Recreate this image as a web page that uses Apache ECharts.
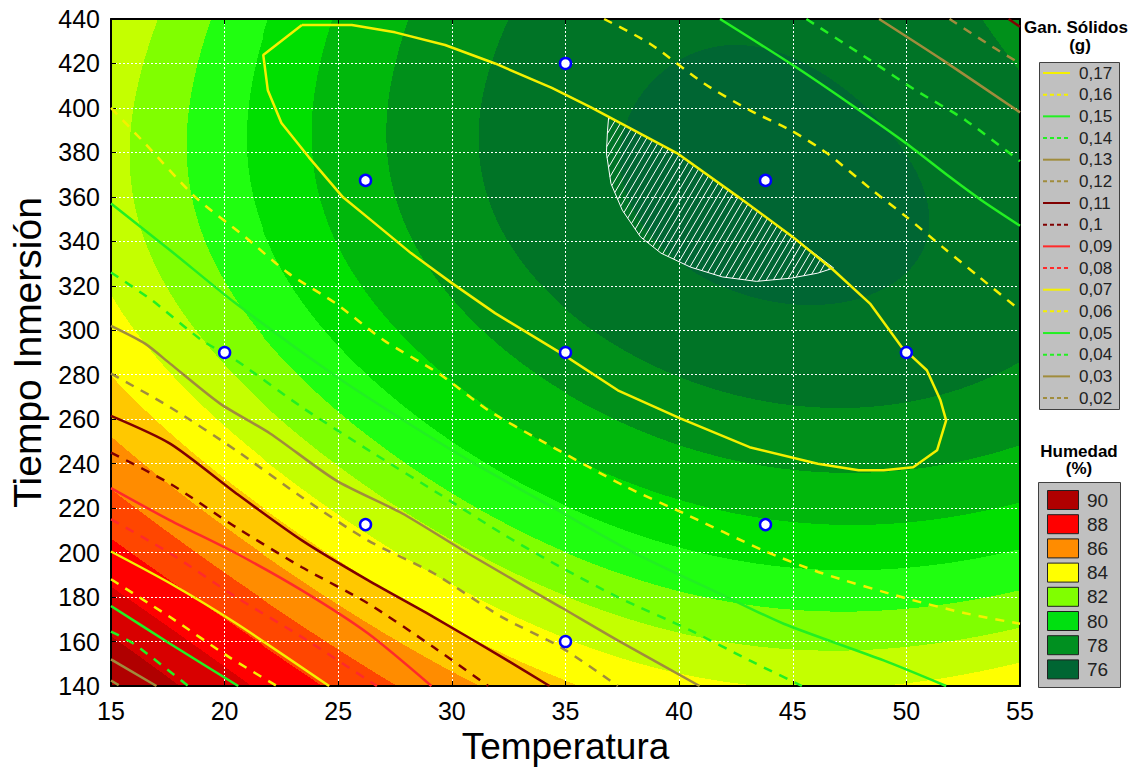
<!DOCTYPE html>
<html><head><meta charset="utf-8">
<script src="https://cdn.jsdelivr.net/npm/echarts@6/dist/echarts.min.js"></script>
<style>html,body{margin:0;padding:0;background:#fff}#c{width:1147px;height:775px}</style>
</head><body><div id="c"></div>
<script>
// ---------------- DATA ----------------
const tempTicks = [15, 20, 25, 30, 35, 40, 45, 50, 55];
const timeTicks = [140, 160, 180, 200, 220, 240, 260, 280, 300, 320, 340, 360, 380, 400, 420, 440];

// Humedad (%) readings at T = 15..55 for several immersion times
const humTemps = [15, 20, 25, 30, 35, 40, 45, 50, 55];
const hum440 = [82.5, 80.8, 78.9, 77.6, 76.7, 76.3, 76.3, 76.6, 77.2];
const hum390 = [82.5, 80.6, 78.6, 77.2, 76.3, 75.8, 75.6, 75.9, 76.6];
const hum340 = [82.8, 80.7, 78.8, 77.5, 76.6, 75.9, 75.6, 75.9, 76.6];
const hum290 = [83.6, 81.8, 79.9, 78.4, 77.3, 76.8, 76.6, 76.7, 77.3];
const hum240 = [85.2, 83.6, 82.0, 80.5, 79.2, 78.2, 77.7, 77.5, 77.9];
const hum190 = [87.5, 86.0, 84.7, 83.4, 82.0, 80.9, 80.1, 79.8, 80.1];
const hum140 = [90.6, 88.0, 86.9, 85.4, 83.8, 83.0, 82.8, 83.1, 83.6];
// band-edge readings [T, time, humedad]
const humEdges = [
  [42.4,429,76],[38.0,414,76],[37.3,402,76],[36.8,380,76],[37.0,366,76],[37.5,354,76],[38.3,342,76],
  [40.5,328.4,76],[43.4,322,76],[46.1,325.7,76],[47.5,330,76],[48.7,339,76],[49.8,351,76],
  [50.3,369,76],[50.3,381,76],[49.4,402,76],[47.5,418,76],
  [16.6,358,82],[18.9,358,81],[21.3,358,80],[24.0,358,79],[27.1,358,78],[31.2,358,77],
  [17.0,440,82],[19.5,440,81],[22.0,440,80],[24.7,440,79],[28.5,440,78],[32.6,440,77],[53.0,440,77],
  [19.8,140,88],[24.5,140,87],[28.5,140,86],[31.3,140,85],[34.0,140,84],[47.5,144,83],[54.8,157.5,83]
];

// Humedad legend
const humLegendLabels = ['90', '88', '86', '84', '82', '80', '78', '76'];
const humLegendColors = ['#b00000', '#ff0000', '#ff8c00', '#ffff00', '#80ff00', '#00e010', '#009020', '#006633'];
const humBandLevels = [76, 77, 78, 79, 80, 81, 82, 83, 84, 85, 86, 87, 88, 89, 90];
const humBandColors = ['#006633', '#007426', '#00901a', '#00b80c', '#00e000', '#20ff10', '#80ff00', '#c4ff00',
  '#ffff00', '#ffc800', '#ff8c00', '#ff4600', '#ff0000', '#d80000', '#b00000', '#900000'];

// Gan. Sólidos (g) contour lines, [Temperatura, Tiempo]
const gs017 = [[23.4,437.3],[25.6,437.3],[27.5,434],[29.7,428.3],[31.9,420],[34.4,409],[36.1,400.4],[39.9,379.7],
  [42.6,360],[45.0,342],[46.8,327],[48.4,312],[49.8,292.4],[50.9,282],[51.5,268.5],[51.75,259.5],[51.35,246],
  [50.3,238.4],[49.0,237],[47.9,237],[46.1,240],[43.1,247.4],[40.05,260.4],[37.3,273],[34.8,289.7],[31.9,307.7],
  [30.0,321.2],[28.2,334.7],[26.6,348.2],[25.2,359.9],[23.7,377.9],[22.5,393.2],[21.9,408],[21.7,423.8],[23.4,437.3]];
const gs016a = [[36.7,440],[38.7,429],[41.1,411],[43.1,399],[44.9,390],[46.5,379.7],[48.5,363],[50.0,351],[51.6,337.4],[53.2,324],[55,309]];
const gs016b = [[15,400],[16.5,384],[18.7,360],[20.9,342],[22.8,325.7],[24.9,312],[27.0,295.5],[29.4,280.7],[31.6,264],
  [33.9,250.5],[37.7,229.4],[40.2,217.7],[43.7,201],[46.3,190.7],[50.0,179.4],[52.6,172.7],[55,168]];
const gs015a = [[41.8,440],[45.0,419.3],[47.5,402],[50.0,384],[51.9,369],[53.3,358.5],[55,347]];
const gs015b = [[15,357],[17.6,336],[20.5,312],[24.8,280],[27.8,260],[31.0,240],[34.5,220],[38.0,200],[42.1,180],[44.6,168],[49.0,151.5],[51.75,140]];
const gs014a = [[45.6,440],[48.4,421.5],[50.4,408],[52.6,394.5],[55,376]];
const gs014b = [[15,326],[16.8,313.5],[19.0,295.5],[20.5,286.5],[23.4,265.4],[26.5,245],[29.5,226],[32.3,208],[34.8,193.4],[37.3,180],[40.5,165],[43.1,151.5],[45.4,140]];
const gs013a = [[48.8,440],[51.6,421.5],[55,398]];
const gs013b = [[15,302],[16.5,294],[17.6,285],[19.8,267],[22.0,253.6],[24.9,232.5],[27.8,217.7],[30.7,199.7],[34.8,175.4],[37.3,160.5],[40.9,140]];
const gs012a = [[51.9,440],[53.8,427.4],[55,420]];
const gs012b = [[15,280.5],[17.6,265.4],[20.5,246],[23.4,224.9],[26.3,205.5],[29.2,190.7],[32.2,171],[34.8,157.4],[37.3,140]];
const gs011a = [[54.5,440],[55,436.5]];
const gs011b = [[15,261.5],[17.6,249],[20.5,226.7],[23.4,205.5],[26.3,187.6],[29.2,171],[32.2,153],[34.3,140]];
const gs010 = [[15,245],[17.6,231],[20.5,211.4],[23.4,193.4],[26.3,177.2],[29.2,157.4],[31.6,140]];
const gs009 = [[15,229],[17.6,214.5],[20.5,199.7],[23.4,183],[26.3,163.7],[29.1,140]];
const gs008 = [[15,215],[17.6,199.7],[20.5,180],[23.4,162],[26.7,140]];
const gs007 = [[15,200.5],[17.6,186.2],[20.5,168.2],[24.6,140]];
const gs006 = [[15,188],[17.6,171],[20.2,153],[22.3,140]];
const gs005 = [[15,176],[17.6,159],[20.6,140]];
const gs004 = [[15,164.5],[16.0,159],[18.4,140]];
const gs003 = [[15,152],[17.0,140]];
const gs002 = [[15,142.5],[15.4,140]];

const solidsLabels = ['0,17','0,16','0,15','0,14','0,13','0,12','0,11','0,1','0,09','0,08','0,07','0,06','0,05','0,04','0,03','0,02'];
const solidsLines = [[gs017],[gs016a,gs016b],[gs015a,gs015b],[gs014a,gs014b],[gs013a,gs013b],[gs012a,gs012b],
  [gs011a,gs011b],[gs010],[gs009],[gs008],[gs007],[gs006],[gs005],[gs004],[gs003],[gs002]];
const solidsPalette = ['#f4f000', '#22f022', '#a08c3c', '#800000', '#ff2a2a'];

// Optimum (hatched) region, [Temperatura, Tiempo]
const hatchRegion = [[36.9,396],[39.9,379.7],[42.6,360],[45.0,342],[46.8,328],[46.1,325.7],[44.9,323.4],[43.4,322],
  [41.9,324],[40.5,328.4],[39.2,334.7],[38.3,342],[37.5,354],[37.0,366],[36.8,379.7],[36.85,390]];

// Experimental design points
const designTemp = [20, 26.2, 26.2, 35, 35, 35, 43.8, 43.8, 50];
const designTime = [290, 212.6, 367.4, 160, 290, 420, 212.6, 367.4, 290];

// ---------------- surface fit (least squares, degree 4) ----------------
const DEG = 4;
function basis(T, t) {
  const u = (T - 35) / 20, v = (t - 290) / 150, b = [];
  for (let d = 0; d <= DEG; d++) for (let i = 0; i <= d; i++) b.push(Math.pow(u, d - i) * Math.pow(v, i));
  return b;
}
const obs = [];
[[440, hum440], [390, hum390], [340, hum340], [290, hum290], [240, hum240], [190, hum190], [140, hum140]].forEach(([tm, row]) => {
  row.forEach((h, i) => obs.push([humTemps[i], tm, h, 1]));
});
humEdges.forEach(e => obs.push([e[0], e[1], e[2], 1.5]));
const nB = basis(0, 0).length;
const A = Array.from({length: nB}, () => new Array(nB).fill(0));
const B = new Array(nB).fill(0);
obs.forEach(([T, tm, h, w]) => {
  const b = basis(T, tm);
  for (let i = 0; i < nB; i++) { B[i] += w * b[i] * h; for (let j = 0; j < nB; j++) A[i][j] += w * b[i] * b[j]; }
});
for (let i = 0; i < nB; i++) A[i][i] += 1e-6;
(function solve() {
  for (let c = 0; c < nB; c++) {
    let p = c; for (let r = c + 1; r < nB; r++) if (Math.abs(A[r][c]) > Math.abs(A[p][c])) p = r;
    [A[c], A[p]] = [A[p], A[c]]; [B[c], B[p]] = [B[p], B[c]];
    for (let r = 0; r < nB; r++) { if (r === c) continue; const f = A[r][c] / A[c][c];
      for (let k = c; k < nB; k++) A[r][k] -= f * A[c][k]; B[r] -= f * B[c]; }
  }
  for (let i = 0; i < nB; i++) B[i] /= A[i][i];
})();
const coef = B;
function hum(T, t) { const b = basis(T, t); let s = 0; for (let i = 0; i < nB; i++) s += coef[i] * b[i]; return s; }
function bandOf(h) { for (let i = 0; i < humBandLevels.length; i++) if (h < humBandLevels[i]) return i; return humBandLevels.length; }

// runs of equal band per raster row (data space)
const NX = 912, NY = 667, T0 = 15, T1 = 55, Y0 = 140, Y1 = 440;
const runs = [];
for (let r = 0; r < NY; r++) {
  const tTop = Y1 - r * (Y1 - Y0) / NY, tBot = Y1 - (r + 1) * (Y1 - Y0) / NY, tMid = (tTop + tBot) / 2;
  let start = T0, prev = bandOf(hum(T0 + 0.5 * (T1 - T0) / NX, tMid));
  for (let c = 1; c < NX; c++) {
    const b = bandOf(hum(T0 + (c + 0.5) * (T1 - T0) / NX, tMid));
    if (b !== prev) { const Tb = T0 + c * (T1 - T0) / NX; runs.push([start, Tb, tTop, tBot, prev]); start = Tb; prev = b; }
  }
  runs.push([start, T1, tTop, tBot, prev]);
}

// ---------------- chart ----------------
const FONT = "'Liberation Sans', Arial, sans-serif";
const chart = echarts.init(document.getElementById('c'), null, {renderer: 'svg', width: 1147, height: 775});

const series = [];
series.push({
  type: 'custom', name: 'Humedad', z: 1, silent: true, animation: false, progressive: 0,
  xAxisIndex: 0, yAxisIndex: 0, encode: {x: [0, 1], y: [2, 3]}, clip: true,
  data: runs,
  renderItem: function (params, api) {
    const p0 = api.coord([api.value(0), api.value(2)]);
    const p1 = api.coord([api.value(1), api.value(3)]);
    const x0 = Math.round(p0[0]), x1 = Math.round(p1[0]), y0 = Math.round(p0[1]), y1 = Math.round(p1[1]);
    if (x1 <= x0 || y1 <= y0) return null;
    return {type: 'rect', shape: {x: x0, y: y0, width: x1 - x0, height: y1 - y0},
      style: {fill: humBandColors[api.value(4)], stroke: null}};
  }
});
series.push({
  type: 'custom', name: 'Optimo', z: 4, silent: true, animation: false,
  xAxisIndex: 0, yAxisIndex: 0, data: [[hatchRegion[0][0], hatchRegion[0][1]]], clip: true,
  renderItem: function (params, api) {
    const pts = hatchRegion.map(p => api.coord(p));
    const k = 1.7, step = 7;
    const cs = pts.map(p => p[0] + p[1] / k);
    const minC = Math.min.apply(null, cs), maxC = Math.max.apply(null, cs);
    const children = [];
    for (let c = Math.ceil(minC / step) * step; c <= maxC; c += step) {
      const hits = [];
      for (let i = 0; i < pts.length; i++) {
        const P = pts[i], Q = pts[(i + 1) % pts.length];
        const fP = P[0] + P[1] / k - c, fQ = Q[0] + Q[1] / k - c;
        if ((fP < 0) !== (fQ < 0)) { const s = fP / (fP - fQ); hits.push([P[0] + s * (Q[0] - P[0]), P[1] + s * (Q[1] - P[1])]); }
      }
      hits.sort((a, b) => a[1] - b[1]);
      for (let j = 0; j + 1 < hits.length; j += 2)
        children.push({type: 'line', shape: {x1: hits[j][0], y1: hits[j][1], x2: hits[j + 1][0], y2: hits[j + 1][1]},
          style: {stroke: '#ffffff', lineWidth: 1}});
    }
    children.push({type: 'polygon', shape: {points: pts}, style: {fill: 'transparent', stroke: '#ffffff', lineWidth: 1}});
    return {type: 'group', children: children};
  }
});
solidsLines.forEach((lines, i) => {
  const color = solidsPalette[Math.floor(i / 2) % 5];
  const dashed = i % 2 === 1;
  lines.forEach(pts => {
    series.push({
      type: 'line', name: solidsLabels[i], z: 5, data: pts, showSymbol: false, symbol: 'none',
      smooth: i === 0 ? false : 0.25, silent: true, animation: false, clip: true,
      lineStyle: {color: color, width: 2.5, type: dashed ? [9, 8] : 'solid'}
    });
  });
});
series.push({
  type: 'scatter', name: 'Diseño', z: 6, symbol: 'circle', symbolSize: 11, animation: false, silent: true,
  data: designTemp.map((T, i) => [T, designTime[i]]),
  itemStyle: {color: '#ffffff', borderColor: '#0000ff', borderWidth: 2.5, opacity: 1}
});

// legends (graphic)
const graphic = [];
graphic.push({type: 'text', left: 1024, top: 19, z: 20, style: {text: 'Gan. Sólidos', font: 'bold 17px ' + FONT, fill: '#000'}});
graphic.push({type: 'text', z: 20, x: 1080, y: 45, style: {text: '(g)', font: 'bold 17px ' + FONT, fill: '#000', align: 'center', verticalAlign: 'middle'}});
graphic.push({type: 'rect', z: 20, shape: {x: 1039.5, y: 62.5, width: 80, height: 347}, style: {fill: '#c0c0c0', stroke: '#404040', lineWidth: 1}});
solidsLabels.forEach((lab, i) => {
  const y = 73 + i * 21.67;
  const color = solidsPalette[Math.floor(i / 2) % 5];
  graphic.push({type: 'line', z: 21, shape: {x1: 1043, y1: y, x2: 1070, y2: y},
    style: {stroke: color, lineWidth: 2, lineDash: i % 2 ? [4, 3] : null}});
  graphic.push({type: 'text', z: 21, x: 1079, y: y, style: {text: lab, font: '17px ' + FONT, fill: '#222', verticalAlign: 'middle'}});
});
graphic.push({type: 'text', z: 20, x: 1079, y: 451, style: {text: 'Humedad', font: 'bold 17px ' + FONT, fill: '#000', align: 'center', verticalAlign: 'middle'}});
graphic.push({type: 'text', z: 20, x: 1079, y: 468, style: {text: '(%)', font: 'bold 17px ' + FONT, fill: '#000', align: 'center', verticalAlign: 'middle'}});
graphic.push({type: 'rect', z: 20, shape: {x: 1038.5, y: 482.5, width: 82, height: 205}, style: {fill: '#c0c0c0', stroke: '#404040', lineWidth: 1}});
humLegendLabels.forEach((lab, i) => {
  const y = 500 + i * 24.2;
  graphic.push({type: 'rect', z: 21, shape: {x: 1047.5, y: y - 9.5, width: 31, height: 19},
    style: {fill: humLegendColors[i], stroke: '#202020', lineWidth: 1}});
  graphic.push({type: 'text', z: 21, x: 1087, y: y, style: {text: lab, font: '19px ' + FONT, fill: '#222', verticalAlign: 'middle'}});
});

const axisCommonX = {type: 'value', min: 15, max: 55, interval: 5, z: 3};
const axisCommonY = {type: 'value', min: 140, max: 440, interval: 20, z: 3};
const option = {
  animation: false,
  backgroundColor: '#ffffff',
  textStyle: {fontFamily: FONT},
  grid: {left: 108, top: 19, width: 912, height: 667, show: false},
  xAxis: [
    Object.assign({}, axisCommonX, {
      position: 'bottom',
      axisLine: {show: true, onZero: false, lineStyle: {color: '#000', width: 2}},
      axisTick: {show: true, inside: true, length: 5, lineStyle: {color: '#000'}},
      axisLabel: {fontSize: 25, color: '#000', margin: 12, fontFamily: FONT},
      splitLine: {show: true, lineStyle: {color: '#ffffff', width: 1, type: [2, 2]}},
      name: 'Temperatura', nameLocation: 'middle', nameGap: 40,
      nameTextStyle: {fontSize: 37, color: '#000', fontFamily: FONT}
    }),
    Object.assign({}, axisCommonX, {
      position: 'top',
      axisLine: {show: true, onZero: false, lineStyle: {color: '#000', width: 2}},
      axisTick: {show: true, inside: true, length: 5, lineStyle: {color: '#000'}},
      axisLabel: {show: false}, splitLine: {show: false}
    })
  ],
  yAxis: [
    Object.assign({}, axisCommonY, {
      position: 'left',
      axisLine: {show: true, onZero: false, lineStyle: {color: '#000', width: 2}},
      axisTick: {show: true, inside: true, length: 5, lineStyle: {color: '#000'}},
      axisLabel: {fontSize: 25, color: '#000', margin: 11, fontFamily: FONT},
      splitLine: {show: true, lineStyle: {color: '#ffffff', width: 1, type: [2, 2]}},
      name: 'Tiempo Inmersión', nameLocation: 'middle', nameGap: 64, nameRotate: 90,
      nameTextStyle: {fontSize: 39, color: '#000', fontFamily: FONT}
    }),
    Object.assign({}, axisCommonY, {
      position: 'right',
      axisLine: {show: true, onZero: false, lineStyle: {color: '#000', width: 2}},
      axisTick: {show: false}, axisLabel: {show: false}, splitLine: {show: false}
    })
  ],
  series: series,
  graphic: graphic
};
chart.setOption(option);
</script></body></html>
